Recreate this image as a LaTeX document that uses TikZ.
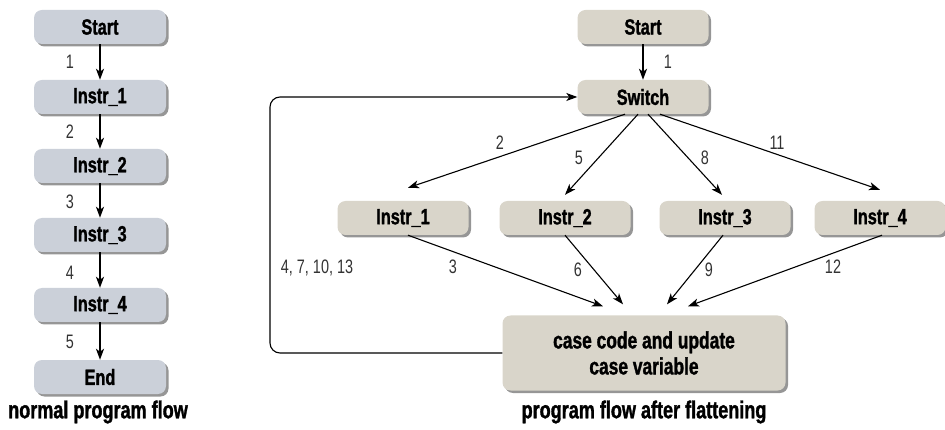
\documentclass[tikz,border=0pt]{standalone}
\usepackage{fontspec}
\setmainfont{Liberation Sans}[FakeStretch=0.74, BoldFeatures={FakeBold=1.3}]
\usetikzlibrary{arrows.meta,shadows,calc}
\definecolor{bluegray}{HTML}{CBD0D9}
\definecolor{beige}{HTML}{D9D5CA}
\definecolor{numgray}{HTML}{333333}
\begin{document}
\begin{tikzpicture}[x=1pt,y=-1pt,
  box/.style={rounded corners=8pt, minimum height=34pt, inner sep=0pt,
    font=\fontsize{22}{24}\selectfont\bfseries,
    drop shadow={shadow xshift=2.5pt,shadow yshift=-2.5pt,opacity=0.55,fill=black!75}},
  lbox/.style={box, fill=bluegray, minimum width=132pt},
  rbox/.style={box, fill=beige, minimum width=131pt},
  num/.style={font=\fontsize{19.5}{21}\selectfont, text=numgray, inner sep=0pt},
  capt/.style={font=\fontsize{24.4}{26}\selectfont\bfseries, inner sep=0pt},
  vflow/.style={line width=1.9pt, -{Stealth[length=11pt,width=8pt,inset=3pt]}},
  flow/.style={line width=1.1pt, -{Stealth[length=11pt,width=8pt,inset=3pt]}}
]
\useasboundingbox (0,0) rectangle (945,430);
% left column
\node[lbox] (ls) at (100,27) {Start};
\node[lbox] (l1) at (100,97) {Instr\_1};
\node[lbox] (l2) at (100,166) {Instr\_2};
\node[lbox] (l3) at (100,235) {Instr\_3};
\node[lbox] (l4) at (100,305) {Instr\_4};
\node[lbox] (le) at (100,377) {End};
\draw[vflow] (ls.south) -- (l1.north);
\draw[vflow] (l1.south) -- (l2.north);
\draw[vflow] (l2.south) -- (l3.north);
\draw[vflow] (l3.south) -- (l4.north);
\draw[vflow] (l4.south) -- (le.north);
\node[num] (n1) at (70,62) {1};
\node[num] (n2) at (70,132) {2};
\node[num] (n3) at (70,202) {3};
\node[num] (n4) at (70,273) {4};
\node[num] (n5) at (70,342) {5};
\node[capt] (c1) at (98,412) {normal program flow};
% right part
\node[rbox] (rs) at (643,27) {Start};
\node[rbox] (sw) at (643,97) {Switch};
\node[rbox] (i1) at (403,218) {Instr\_1};
\node[rbox] (i2) at (565,218) {Instr\_2};
\node[rbox] (i3) at (725,218) {Instr\_3};
\node[rbox] (i4) at (880,218) {Instr\_4};
\node[box, fill=beige, minimum width=283pt, minimum height=75pt, align=center,
  font=\fontsize{23.5}{26}\selectfont\bfseries] (cc) at (644,353) {case code and update\\case variable};
\draw[vflow] (rs.south) -- (sw.north);
\draw[flow] ($(sw.south)+(-18,0)$) -- ($(i1.north)+(5,-13)$);
\draw[flow] ($(sw.south)+(-5,0)$) -- ($(i2.north)+(0,-6)$);
\draw[flow] ($(sw.south)+(5,0)$) -- ($(i3.north)+(-3,-6)$);
\draw[flow] ($(sw.south)+(17,0)$) -- ($(i4.north)+(0,-11)$);
\draw[flow] ($(i1.south)+(5,0)$) -- ($(cc.north)+(-41,-9)$);
\draw[flow] (i2.south) -- ($(cc.north)+(-21,-11)$);
\draw[flow] ($(i3.south)+(-2,0)$) -- ($(cc.north)+(23,-11)$);
\draw[flow] ($(i4.south)+(2,0)$) -- ($(cc.north)+(44,-9)$);
\coordinate (lc) at (270,0);
\draw[flow, rounded corners=10pt] (cc.west) -- (cc.west -| lc) -- (sw.west -| lc) -- (sw.west);
\node[num] (r1) at (668,62) {1};
\node[num] (r2) at (500,143) {2};
\node[num] (r5) at (579,158) {5};
\node[num] (r8) at (705,158) {8};
\node[num] (r11) at (777,143) {11};
\node[num] (r3) at (453,267) {3};
\node[num] (r6) at (578,270) {6};
\node[num] (r9) at (709,270) {9};
\node[num] (r12) at (833,267) {12};
\node[num] (rl) at (317,268) {4, 7, 10, 13};
\node[capt] (c2) at (644,412) {program flow after flattening};
\end{tikzpicture}
\end{document}
